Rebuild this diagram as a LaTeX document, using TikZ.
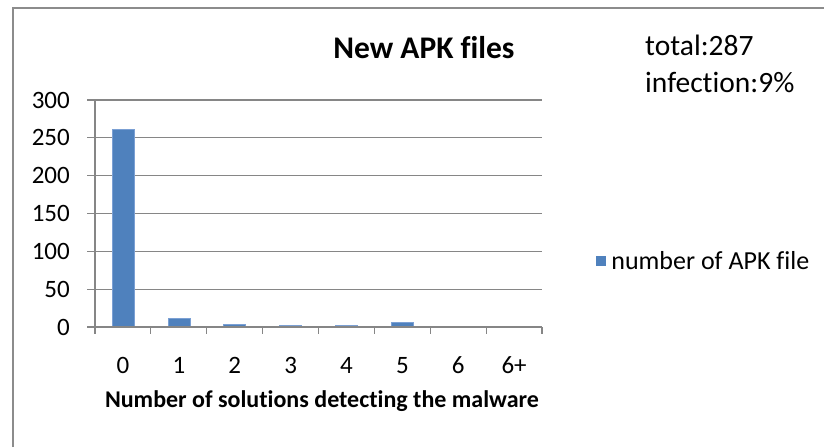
\documentclass[tikz,border=0pt]{standalone}
\usepackage{fontspec}
\setmainfont{Carlito}[Ligatures=NoCommon]
\usetikzlibrary{positioning}
\definecolor{barblue}{HTML}{4F81BD}
\definecolor{bardraw}{HTML}{7BA0D4}
\definecolor{gridgray}{HTML}{868686}
\definecolor{framegray}{HTML}{8C8C8C}

\begin{document}
\begin{tikzpicture}[
    x=1pt, y=-1pt,
    gridline/.style={draw=gridgray, line width=1.2pt},
    bar/.style={fill=barblue, draw=bardraw, line width=0.6pt},
    ticklabel/.style={font=\fontsize{25}{30}\selectfont, inner sep=0pt},
    legendtext/.style={font=\fontsize{26}{30}\selectfont, inner sep=0pt},
    note/.style={font=\fontsize{29.5}{34}\selectfont, inner sep=0pt, anchor=base west},
    charttitle/.style={font=\fontsize{31.5}{36}\selectfont\bfseries, inner sep=0pt, anchor=base},
    axistitle/.style={font=\fontsize{24}{28}\selectfont\bfseries, inner sep=0pt, anchor=base}
]
\useasboundingbox (0,0) rectangle (824,447);

% --- Chart frame ---
\draw[draw=framegray, line width=1.2pt] (13,447) -- (13,8) -- (824,8);

% --- Gridlines and value labels ---
\foreach \v in {0,50,...,300}
{
    \draw[gridline] (87,{327-0.7567*\v}) -- (542,{327-0.7567*\v});
    \node[ticklabel, anchor=east] (y\v) at (70,{327-0.7567*\v}) {\v};
}

% --- Bars and category labels ---
\foreach \lab/\val [count=\k from 0] in {0/261,1/11,2/3,3/2,4/2,5/6,6/1,6+/1}
{
    \filldraw[bar] ({123+55.875*\k-11},327) rectangle ++(22,{-0.7567*\val});
    \node[ticklabel, anchor=base] (x\k) at ({123+55.875*\k},373) {\lab};
}

% --- Axes ---
\draw[gridline] (95,100) -- (95,327);
\draw[gridline] (87,327) -- (542,327);
\foreach \k in {0,...,8}
{
    \draw[gridline] ({95+55.875*\k},327) -- ++(0,7);
}

% --- Titles ---
\node[charttitle] (title) at (424,58) {New APK files};
\node[axistitle] (xtitle) at (322,407) {Number of solutions detecting the malware};

% --- Notes ---
\node[note] (total) at (645,55) {total:287};
\node[note] (infect) at (645,92) {infection:9\%};

% --- Legend ---
\node[fill=barblue, minimum size=10pt, inner sep=0pt] (legkey) at (601,261) {};
\node[legendtext, right=5pt of legkey] (legtext) {number of APK file};

\end{tikzpicture}
\end{document}
